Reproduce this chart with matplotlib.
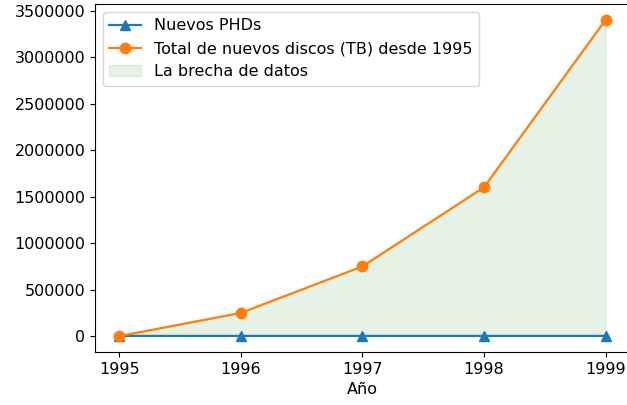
import matplotlib
matplotlib.use("Agg")
import matplotlib.pyplot as plt

plt.rcParams["font.size"] = 11.5

# datos
anios = [1995, 1996, 1997, 1998, 1999]
nuevos_phds = [2000, 2100, 2200, 2300, 2400]
discos_tb = [0, 250000, 750000, 1600000, 3400000]

fig = plt.figure(figsize=(6.27, 4.05), dpi=100)
ax = fig.add_axes([0.1515, 0.131, 0.853, 0.859])

ax.plot(anios, nuevos_phds, marker="^", markersize=7.5, lw=1.6, label="Nuevos PHDs")
ax.plot(anios, discos_tb, marker="o", markersize=7.5, lw=1.6, label="Total de nuevos discos (TB) desde 1995")
ax.fill_between(anios, nuevos_phds, discos_tb, color="green", alpha=0.1, label="La brecha de datos")

ax.set_xticks(anios)
ax.set_xlabel("Año")
ax.ticklabel_format(axis="y", style="plain")
ax.spines["right"].set_visible(False)
ax.legend(loc="upper left")

fig.savefig("out.png")
